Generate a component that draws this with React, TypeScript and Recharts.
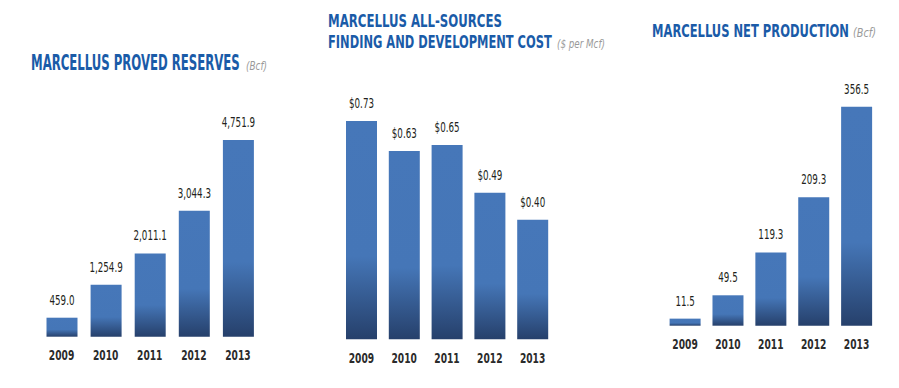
import { useLayoutEffect, useRef, useState } from 'react'
import { BarChart, Bar, XAxis, YAxis, LabelList } from 'recharts'

const YEARS = ['2009', '2010', '2011', '2012', '2013']
const RESERVES = [459.0, 1254.9, 2011.1, 3044.3, 4751.9]
const FD_COST = [0.73, 0.63, 0.65, 0.49, 0.40]
const PRODUCTION = [11.5, 49.5, 119.3, 209.3, 356.5]

const NARROW = "'DejaVu Sans Condensed', 'DejaVu Sans', sans-serif"
const TITLE_BLUE = '#1A5BA8'

type Panel = {
  id: string
  values: number[]
  fmt: (n: number) => string
  left: number
  plotLeft: number
  plotRight: number
  plotTop: number
  plotBottom: number
}

const PANELS: Panel[] = [
  {
    id: 'reserves', values: RESERVES,
    fmt: (n) => n.toLocaleString('en-US', { minimumFractionDigits: 1, maximumFractionDigits: 1 }),
    left: 0, plotLeft: 39.5, plotRight: 260, plotTop: 140, plotBottom: 336.7,
  },
  {
    id: 'fd', values: FD_COST,
    fmt: (n) => `$${n.toFixed(2)}`,
    left: 300, plotLeft: 340, plotRight: 554, plotTop: 121, plotBottom: 339.3,
  },
  {
    id: 'prod', values: PRODUCTION,
    fmt: (n) => n.toFixed(1),
    left: 600, plotLeft: 663.6, plotRight: 878, plotTop: 106.7, plotBottom: 325.7,
  },
]

const W = 299
const H = 388
const AXIS_H = 30

// squeeze text horizontally so it looks like the condensed face in the original
function FitText({ x, y, width, scale, anchor = 'start', style, children }: {
  x: number; y: number; width?: number; scale?: number
  anchor?: 'start' | 'middle'
  style: React.CSSProperties
  children: string
}) {
  const ref = useRef<SVGTextElement>(null)
  const [sx, setSx] = useState(scale ?? 1)
  useLayoutEffect(() => {
    if (width && ref.current) {
      const len = ref.current.getComputedTextLength()
      if (len > 0) setSx(width / len)
    }
  }, [width, children])
  return (
    <text ref={ref} x={0} y={0} textAnchor={anchor} transform={`translate(${x},${y}) scale(${sx},1)`} style={style}>
      {children}
    </text>
  )
}

const tickStyle = { fill: '#2B2B2B', fontSize: 14.5, fontWeight: 700, fontFamily: NARROW }
const valueStyle = { fill: '#231F20', fontSize: 13.5, fontFamily: NARROW }

function PanelChart({ p }: { p: Panel }) {
  const data = YEARS.map((year, i) => ({ year, value: p.values[i] }))
  return (
    <div style={{ position: 'absolute', left: p.left, top: 0 }}>
      <BarChart
        width={W}
        height={H}
        data={data}
        barSize={31}
        margin={{
          top: p.plotTop,
          left: p.plotLeft - p.left,
          right: p.left + W - p.plotRight,
          bottom: H - p.plotBottom - AXIS_H,
        }}
      >
        <defs>
          <linearGradient id={`grad-${p.id}`} x1="0" y1="0" x2="0" y2="1">
            <stop offset="0%" stopColor="#4677B9" />
            <stop offset="62%" stopColor="#4576B7" />
            <stop offset="100%" stopColor="#26406B" />
          </linearGradient>
        </defs>
        <XAxis
          dataKey="year"
          axisLine={false}
          tickLine={false}
          height={AXIS_H}
          interval={0}
          tick={(props: any) => (
            <FitText x={props.x} y={p.plotBottom + 23.5} scale={0.7} anchor="middle" style={tickStyle}>
              {String(props.payload.value)}
            </FitText>
          )}
        />
        <YAxis hide domain={[0, 'dataMax']} />
        <Bar dataKey="value" fill={`url(#grad-${p.id})`} isAnimationActive={false}>
          <LabelList
            dataKey="value"
            content={(props: any) => (
              <FitText
                x={Number(props.x) + Number(props.width) / 2}
                y={Number(props.y) - 13}
                scale={0.72}
                anchor="middle"
                style={valueStyle}
              >
                {p.fmt(Number(props.value))}
              </FitText>
            )}
          />
        </Bar>
      </BarChart>
    </div>
  )
}

function Titles() {
  const t = { fill: TITLE_BLUE, fontFamily: NARROW, fontWeight: 700 }
  const u = { fill: '#9A9A9A', fontFamily: NARROW, fontStyle: 'italic' as const, fontSize: 12 }
  return (
    <svg width={899} height={388} style={{ position: 'absolute', left: 0, top: 0, pointerEvents: 'none' }}>
      <FitText x={31} y={70} width={209} style={{ ...t, fontSize: 20.5 }}>MARCELLUS PROVED RESERVES</FitText>
      <FitText x={246} y={70} width={21} style={u}>(Bcf)</FitText>

      <FitText x={328} y={27} width={174} style={{ ...t, fontSize: 18.5 }}>MARCELLUS ALL-SOURCES</FitText>
      <FitText x={328} y={48} width={224} style={{ ...t, fontSize: 18.5 }}>FINDING AND DEVELOPMENT COST</FitText>
      <FitText x={557} y={48} width={48} style={u}>($ per Mcf)</FitText>

      <FitText x={652} y={37} width={197} style={{ ...t, fontSize: 18.5 }}>MARCELLUS NET PRODUCTION</FitText>
      <FitText x={853} y={37} width={23} style={u}>(Bcf)</FitText>
    </svg>
  )
}

export default function App() {
  return (
    <div style={{ position: 'absolute', left: 0, top: 0, width: 899, height: 388, background: '#fff', overflow: 'hidden' }}>
      {PANELS.map((p) => (
        <PanelChart key={p.id} p={p} />
      ))}
      <Titles />
    </div>
  )
}
